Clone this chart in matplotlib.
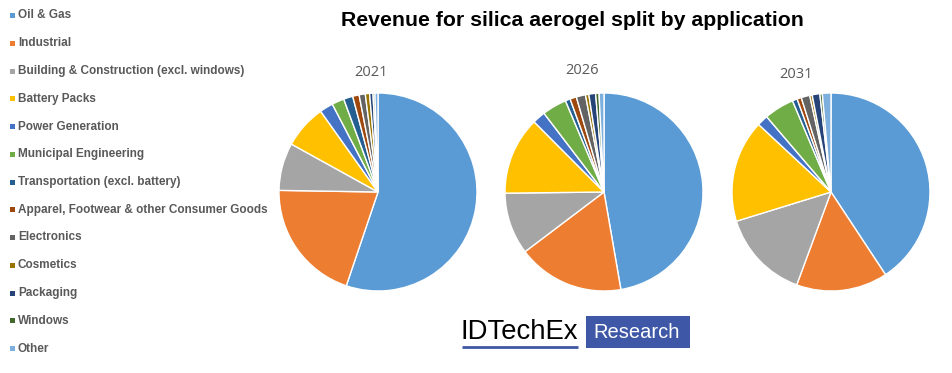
import matplotlib.pyplot as plt
from matplotlib.patches import Rectangle

W, H = 953, 373

categories = [
    "Oil & Gas",
    "Industrial",
    "Building & Construction (excl. windows)",
    "Battery Packs",
    "Power Generation",
    "Municipal Engineering",
    "Transportation (excl. battery)",
    "Apparel, Footwear & other Consumer Goods",
    "Electronics",
    "Cosmetics",
    "Packaging",
    "Windows",
    "Other",
]
colors = ["#5B9BD5", "#ED7D31", "#A5A5A5", "#FFC000", "#4472C4", "#70AD47", "#255E91",
          "#9E480E", "#636363", "#997300", "#264478", "#43682B", "#7CAFDD"]

years = ["2021", "2026", "2031"]
share_2021 = [55.0, 20.0, 7.75, 7.1, 2.2, 2.0, 1.5, 1.05, 1.0, 0.7, 0.55, 0.3, 0.5]
share_2026 = [47.2, 17.4, 10.1, 12.7, 2.1, 4.0, 0.8, 1.05, 1.5, 0.55, 1.1, 0.55, 0.8]
share_2031 = [40.7, 14.9, 14.6, 16.7, 1.8, 4.9, 0.8, 0.7, 1.4, 0.4, 1.25, 0.4, 1.4]
shares = [share_2021, share_2026, share_2031]

plt.rcParams["font.family"] = ["Liberation Sans", "DejaVu Sans"]

fig = plt.figure(figsize=(W / 100, H / 100), dpi=100)

# pie centres / year label positions in pixels (y from top)
pies = [(378, 192, 371, 72), (604, 192, 582, 70), (831, 192, 796, 74)]
r = 99
for (cx, cy, lx, ly), vals, year in zip(pies, shares, years):
    ax = fig.add_axes([(cx - r) / W, 1 - (cy + r) / H, 2 * r / W, 2 * r / H])
    ax.pie(vals, colors=colors, startangle=90, counterclock=False,
           wedgeprops=dict(edgecolor="white", linewidth=1.0))
    ax.set_xlim(-1, 1)
    ax.set_ylim(-1, 1)
    ax.set_aspect("auto")
    ax.axis("off")
    fig.text(lx / W, 1 - ly / H, year, ha="center", va="center",
             fontsize=10.5, color="#595959", family=["Open Sans", "DejaVu Sans"])

ov = fig.add_axes([0, 0, 1, 1])
ov.set_xlim(0, W)
ov.set_ylim(H, 0)
ov.axis("off")

ov.text(572, 21, "Revenue for silica aerogel split by application", ha="center",
        va="center", fontsize=15.3, fontweight="bold", color="black")

# legend
for i, (name, c) in enumerate(zip(categories, colors)):
    y = 15.5 + i * 27.75
    ov.add_patch(Rectangle((10, y - 2.5), 5, 5, facecolor=c, edgecolor="none"))
    ov.text(18, y, name, ha="left", va="center", fontsize=8.5,
            fontweight="bold", color="#595959")

# IDTechEx logo
ov.text(461, 332, "IDTechEx", ha="left", va="center", fontsize=19.8,
        color="black")
ov.plot([462, 578], [347, 347], color="#3E57A6", lw=2, solid_capstyle="butt")
ov.add_patch(Rectangle((586, 316), 104, 32, facecolor="#3E57A6", edgecolor="none"))
ov.text(637, 332, "Research", ha="center", va="center", fontsize=14.5, color="white")

fig.savefig("out.png", dpi=100)
